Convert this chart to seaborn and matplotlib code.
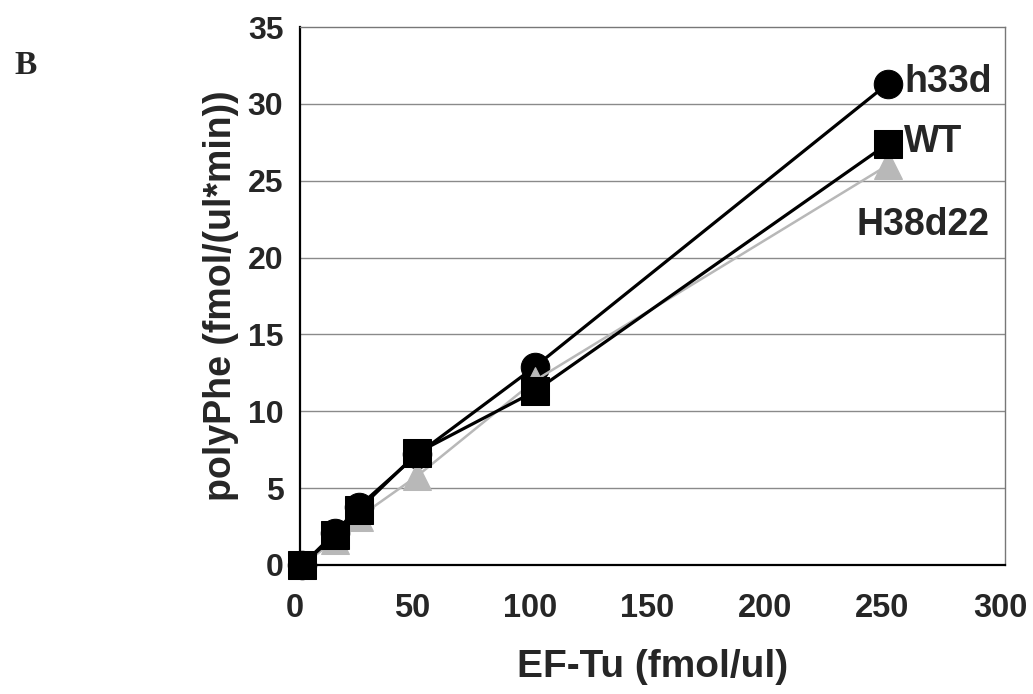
import matplotlib
matplotlib.use("Agg")
import matplotlib.pyplot as plt
import matplotlib.transforms as mtransforms
import seaborn as sns
import pandas as pd

# EF-Tu concentration (fmol/ul)
ef_tu = [1, 15, 25, 50, 100, 250]

# polyPhe synthesis rate (fmol/(ul*min)) per variant
wt = [0.0, 1.95, 3.6, 7.3, 11.3, 27.4]
h38d22 = [0.0, 1.6, 3.1, 5.8, 12.0, 26.0]
h33d = [0.0, 2.1, 3.8, 7.2, 12.9, 31.3]

x_ticks = [0, 50, 100, 150, 200, 250, 300]
y_ticks = [0, 5, 10, 15, 20, 25, 30, 35]

sns.set_theme(style="white")
plt.rcParams['font.family'] = ['Liberation Sans', 'DejaVu Sans']

fig = plt.figure(figsize=(10.33, 6.94), dpi=100)
ax = fig.add_axes([0.2904, 0.186, 0.6825, 0.775])

# horizontal gridlines
for yv in y_ticks[1:-1]:
    ax.axhline(yv, color='#8a8a8a', lw=1.0, zorder=0)

# draw order: circles at the back, gray triangles, squares on top
series = [
    ("h33d", h33d, 'o', 'black', 'black', 2.3, 20.5),
    ("H38d22", h38d22, '^', '#b8b8b8', '#b8b8b8', 1.8, 20),
    ("WT", wt, 's', 'black', 'black', 2.3, 20),
]
for i, (name, vals, mk, lc, mc, lw, ms) in enumerate(series):
    df = pd.DataFrame({'x': ef_tu, 'y': vals})
    sns.lineplot(data=df, x='x', y='y', ax=ax, color=lc, lw=lw, marker=mk,
                 markersize=ms, markerfacecolor=mc, markeredgecolor=mc,
                 zorder=3 + i, clip_on=False)

ax.set_xlim(0, 300)
ax.set_ylim(0, 35)
ax.set_xticks(x_ticks)
ax.set_yticks(y_ticks)
ax.set_xticklabels([str(t) for t in x_ticks], fontsize=23.5, fontweight='bold')
ax.set_yticklabels([str(t) for t in y_ticks], fontsize=23, fontweight='bold')
ax.tick_params(axis='x', direction='in', length=11, width=1.0, color='#555555', pad=20)
ax.tick_params(axis='y', length=0, pad=12)

# x tick labels sit a few pixels left of their ticks in the original
shift = mtransforms.ScaledTranslation(-5 / 100, 0, fig.dpi_scale_trans)
for lab in ax.get_xticklabels():
    lab.set_transform(lab.get_transform() + shift)

for side in ['top', 'right']:
    ax.spines[side].set_color('#777777')
    ax.spines[side].set_linewidth(1.0)
for side in ['left', 'bottom']:
    ax.spines[side].set_color('black')
    ax.spines[side].set_linewidth(1.6)

ax.set_xlabel("EF-Tu (fmol/ul)", fontsize=28, fontweight='bold', labelpad=18)
ax.set_ylabel("polyPhe (fmol/(ul*min))", fontsize=27, fontweight='bold', labelpad=6)

# series labels
ax.text(257, 31.4, "h33d", fontsize=27, fontweight='bold', va='center', ha='left')
ax.text(257, 27.5, "WT", fontsize=27, fontweight='bold', va='center', ha='left')
ax.text(237, 22.1, "H38d22", fontsize=27, fontweight='bold', va='center', ha='left')

fig.text(0.014, 0.893, "B", fontsize=24, fontweight='bold', family='Liberation Serif')

fig.savefig("out.png", dpi=100)
